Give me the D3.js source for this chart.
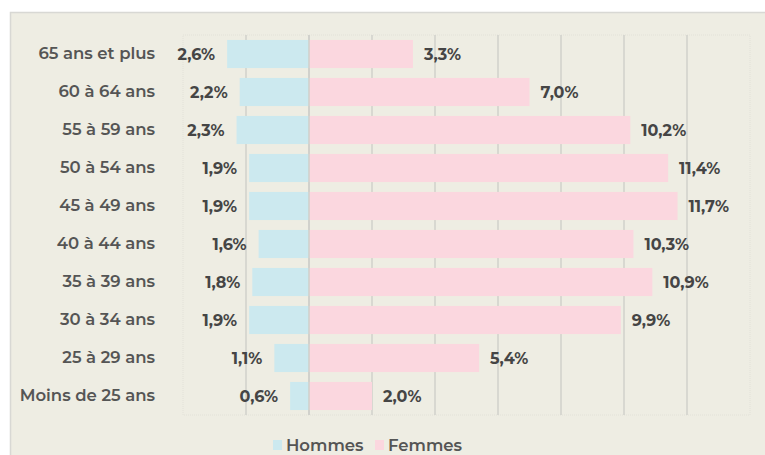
<!DOCTYPE html>
<html><head><meta charset="utf-8">
<script src="https://cdn.jsdelivr.net/npm/d3@7"></script>
<style>body{margin:0;background:#fff;}svg{display:block;}</style>
</head><body>
<script>
const categories = ["65 ans et plus","60 à 64 ans","55 à 59 ans","50 à 54 ans","45 à 49 ans","40 à 44 ans","35 à 39 ans","30 à 34 ans","25 à 29 ans","Moins de 25 ans"];
const hommes = [2.6,2.2,2.3,1.9,1.9,1.6,1.8,1.9,1.1,0.6];
const femmes = [3.3,7.0,10.2,11.4,11.7,10.3,10.9,9.9,5.4,2.0];
const ticks = [-4,-2,0,2,4,6,8,10,12,14];
const seriesNames = ["Hommes","Femmes"];
const colors = ["#cce9ef","#fbd7df"];

(function(){
const W = 765, H = 455;
const svg = d3.select("body").append("svg").attr("width",W).attr("height",H);
svg.append("rect").attr("x",10.5).attr("y",12.5).attr("width",W).attr("height",H)
  .attr("fill","#eeede3").attr("stroke","#d8d8d4").attr("stroke-width",1.5);

const pl = 183, pr = 750, pt = 35, pb = 415;
const x = d3.scaleLinear().domain([-4,14]).range([pl,pr]);
const y = d3.scaleBand().domain(categories).range([pt,pb]).paddingInner(0.26).paddingOuter(0.13);

svg.append("rect").attr("x",pl).attr("y",pt).attr("width",pr-pl).attr("height",pb-pt)
  .attr("fill","none").attr("stroke","#e2e1d8").attr("stroke-width",1).attr("stroke-dasharray","1,1");

svg.append("g").selectAll("line").data(ticks.slice(1,-1)).join("line")
  .attr("x1",d=>x(d)).attr("x2",d=>x(d)).attr("y1",pt).attr("y2",pb)
  .attr("stroke","#d0d0cb").attr("stroke-width",1.5);

const data = categories.map((c,i)=>({c,h:hommes[i],f:femmes[i]}));
const fmt = v => d3.format(".1f")(v).replace(".",",")+"%";

svg.append("g").selectAll("rect").data(data).join("rect")
  .attr("x",d=>x(-d.h)).attr("width",d=>x(0)-x(-d.h))
  .attr("y",d=>y(d.c)).attr("height",y.bandwidth()).attr("fill",colors[0]);
svg.append("g").selectAll("rect").data(data).join("rect")
  .attr("x",x(0)).attr("width",d=>x(d.f)-x(0))
  .attr("y",d=>y(d.c)).attr("height",y.bandwidth()).attr("fill",colors[1]);

svg.append("line").attr("x1",x(0)).attr("x2",x(0)).attr("y1",pt).attr("y2",pb)
  .attr("stroke","#cfcfca").attr("stroke-width",1.5);

const font = "Montserrat, 'Open Sans', sans-serif";
const lab = svg.append("g").attr("font-family",font).attr("font-weight",700).attr("font-size",16).attr("fill","#454545");
lab.selectAll("text.h").data(data).join("text").attr("class","h")
  .attr("x",d=>x(-d.h)-12).attr("y",d=>y(d.c)+y.bandwidth()/2).attr("dy","0.35em")
  .attr("text-anchor","end").text(d=>fmt(d.h));
lab.selectAll("text.f").data(data).join("text").attr("class","f")
  .attr("x",d=>x(d.f)+11).attr("y",d=>y(d.c)+y.bandwidth()/2).attr("dy","0.35em")
  .attr("text-anchor","start").text(d=>fmt(d.f));

const yAxis = svg.append("g").attr("transform",`translate(${pl},0)`)
  .call(d3.axisLeft(y).tickSize(0).tickPadding(28));
yAxis.select(".domain").remove();
yAxis.selectAll("text").attr("font-family",font).attr("font-weight",600).attr("font-size",16.5).attr("fill","#555");

const lg = svg.append("g").attr("font-family",font).attr("font-weight",600).attr("font-size",16.5).attr("fill","#555");
const lx = [273,375];
seriesNames.forEach((n,i)=>{
  lg.append("rect").attr("x",lx[i]).attr("y",440).attr("width",9).attr("height",10).attr("fill",colors[i]);
  lg.append("text").attr("x",lx[i]+13).attr("y",445).attr("dy","0.35em").text(n);
});
})();
</script>
</body></html>
